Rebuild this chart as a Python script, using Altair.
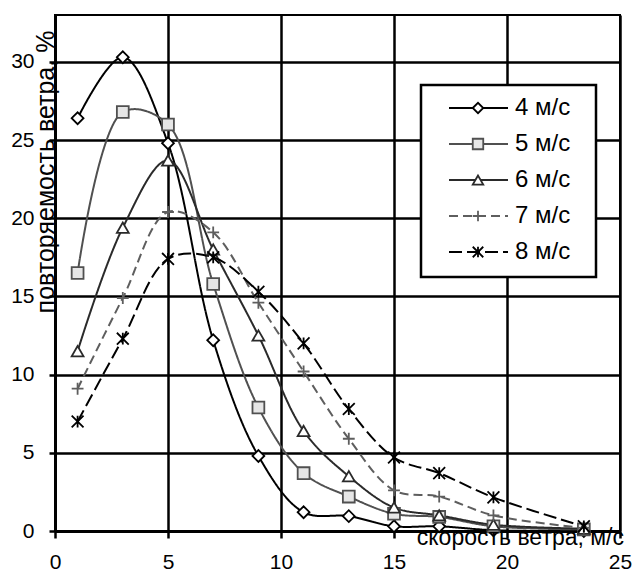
import altair as alt
import pandas as pd

# ---- data ----
speeds = [1, 3, 5, 7, 9, 11, 13, 15, 17, 19.4, 23.4]
series_names = ["4 м/с", "5 м/с", "6 м/с", "7 м/с", "8 м/с"]
s4 = [26.4, 30.3, 24.8, 12.2, 4.8, 1.2, 0.95, 0.3, 0.3, 0.05, 0.0]
s5 = [16.5, 26.8, 26.0, 15.8, 7.9, 3.7, 2.2, 1.1, 0.9, 0.3, 0.1]
s6 = [11.5, 19.4, 23.7, 18.0, 12.5, 6.4, 3.5, 1.5, 1.0, 0.4, 0.15]
s7 = [9.1, 14.9, 20.4, 19.1, 14.6, 10.2, 5.9, 2.6, 2.2, 1.0, 0.2]
s8 = [7.0, 12.3, 17.4, 17.5, 15.3, 12.0, 7.8, 4.7, 3.7, 2.15, 0.3]
x_ticks = [0, 5, 10, 15, 20, 25]
y_ticks = [0, 5, 10, 15, 20, 25, 30]
x_title = "скорость ветра, м/с"
y_title = "повторяемость ветра, %"

rows = []
for name, vals in zip(series_names, [s4, s5, s6, s7, s8]):
    for xv, yv in zip(speeds, vals):
        rows.append({"series": name, "speed": xv, "freq": yv})
df = pd.DataFrame(rows)
legend_df = pd.DataFrame({"series": series_names})
one_row = pd.DataFrame({"a": [0]})

FONT = "Liberation Sans"
FS = 21
W, H = 565, 516

stroke_scale = alt.Scale(domain=series_names,
                         range=["#000000", "#505050", "#2a2a2a", "#5e5e5e", "#000000"])
dash_scale = alt.Scale(domain=series_names,
                       range=[[1, 0], [1, 0], [1, 0], [9, 5], [13, 5]])
shape_scale = alt.Scale(domain=series_names,
                        range=["diamond", "square", "triangle-up",
                               "M-1,0L1,0M0,-1L0,1",
                               "M-1,-1L1,1M-1,1L1,-1M0,-1L0,1"])
fill_scale = alt.Scale(domain=series_names,
                       range=["#ffffff", "#e6e6e6", "#ffffff", "#ffffff", "#ffffff"])

xs = alt.X("speed:Q", scale=alt.Scale(domain=[0, 25], nice=False, zero=False),
           axis=alt.Axis(values=x_ticks, title=None, grid=True, gridColor="#000000",
                         gridWidth=2.5, domainColor="#000000", domainWidth=3,
                         tickColor="#000000", tickWidth=2.5, tickSize=7,
                         labelFont=FONT, labelFontSize=FS, labelColor="#000000",
                         labelPadding=13, labelFlush=False))
ys = alt.Y("freq:Q", scale=alt.Scale(domain=[0, 33], nice=False),
           axis=alt.Axis(values=y_ticks, title=None, grid=True, gridColor="#000000",
                         gridWidth=2.5, domainColor="#000000", domainWidth=3,
                         tickColor="#000000", tickWidth=2.5, tickSize=6,
                         labelFont=FONT, labelFontSize=FS, labelColor="#000000",
                         labelPadding=15, labelFlush=False))

lines = alt.Chart(df).mark_line(interpolate="catmull-rom", strokeWidth=2).encode(
    x=xs, y=ys,
    stroke=alt.Stroke("series:N", scale=stroke_scale, legend=None),
    strokeDash=alt.StrokeDash("series:N", scale=dash_scale, legend=None),
    detail="series:N",
)
points = alt.Chart(df).mark_point(size=140, strokeWidth=1.8, opacity=1).encode(
    x=alt.X("speed:Q"), y=alt.Y("freq:Q"),
    shape=alt.Shape("series:N", scale=shape_scale, legend=None),
    stroke=alt.Stroke("series:N", scale=stroke_scale, legend=None),
    fill=alt.Fill("series:N", scale=fill_scale, legend=None),
)
ytitle = alt.Chart(one_row).mark_text(
    text=y_title, angle=270, font=FONT, fontSize=25, align="center",
    baseline="alphabetic", color="#000000"
).encode(x=alt.value(-1), y=alt.value(157))
xtitle = alt.Chart(one_row).mark_text(
    text=x_title, font=FONT, fontSize=23, align="right",
    baseline="alphabetic", color="#000000"
).encode(x=alt.value(W + 4), y=alt.value(H + 14))

main = alt.layer(lines, points, ytitle, xtitle)

leg_y = alt.Y("series:N", scale=alt.Scale(type="point", domain=series_names,
                                          range=[93, 237], padding=0), axis=None)
box = alt.Chart(one_row).mark_rect(fill="#ffffff", stroke="#000000", strokeWidth=2.5).encode(
    x=alt.value(366), x2=alt.value(541), y=alt.value(70), y2=alt.value(262))
leg_lines = alt.Chart(legend_df).mark_rule(strokeWidth=2).encode(
    x=alt.value(394), x2=alt.value(453), y=leg_y,
    stroke=alt.Stroke("series:N", scale=stroke_scale, legend=None),
    strokeDash=alt.StrokeDash("series:N", scale=dash_scale, legend=None),
)
leg_pts = alt.Chart(legend_df).mark_point(size=110, strokeWidth=1.8, opacity=1).encode(
    x=alt.value(423), y=leg_y,
    shape=alt.Shape("series:N", scale=shape_scale, legend=None),
    stroke=alt.Stroke("series:N", scale=stroke_scale, legend=None),
    fill=alt.Fill("series:N", scale=fill_scale, legend=None),
)
leg_txt = alt.Chart(legend_df).mark_text(
    font=FONT, fontSize=24, align="left", baseline="middle", color="#000000"
).encode(x=alt.value(460), y=leg_y, text="series:N")
legend = alt.layer(box, leg_lines, leg_pts, leg_txt)

chart = alt.layer(main, legend).resolve_scale(y="independent").properties(
    width=W, height=H,
    autosize=alt.AutoSizeParams(type="none"),
    padding={"left": 47, "top": 7, "right": 12, "bottom": 40},
).configure_view(stroke="#000000", strokeWidth=2)

chart.save("out.html", embed_options={"renderer": "svg", "actions": False})
